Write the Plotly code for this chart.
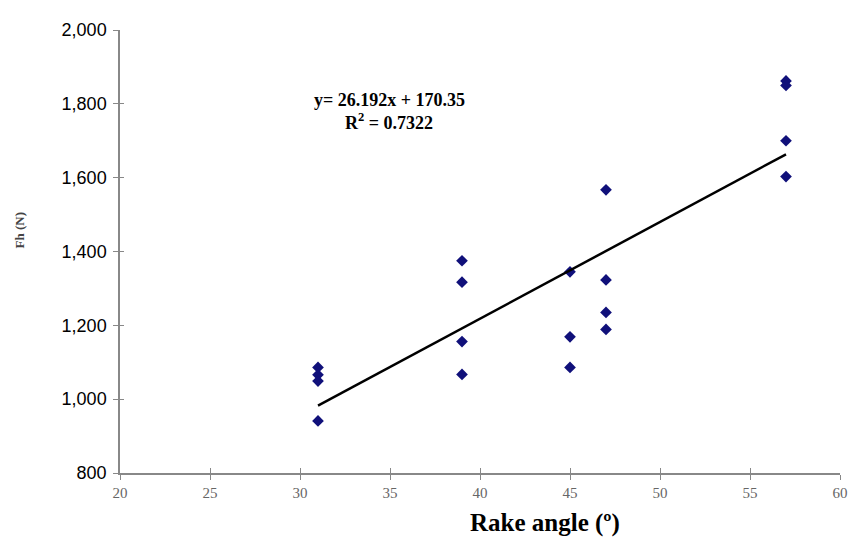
import plotly.graph_objects as go

rake_angle = [31, 31, 31, 31, 39, 39, 39, 39, 45, 45, 45, 47, 47, 47, 47, 57, 57, 57, 57]
fh_values = [1086, 1066, 1049, 941, 1375, 1317, 1156, 1067, 1345, 1169, 1086,
             1567, 1323, 1235, 1189, 1862, 1850, 1700, 1603]

slope = 26.192
intercept = 170.35
fit_x = [31, 57]
fit_y = [slope * v + intercept for v in fit_x]

x_ticks = [20, 25, 30, 35, 40, 45, 50, 55, 60]
y_ticks = [800, 1000, 1200, 1400, 1600, 1800, 2000]

W, H = 850, 550
l, r, t, b = 120, 10, 30, 77
pw, ph = W - l - r, H - t - b


def paper(xp, yp):
    """page pixel -> paper coords relative to plot area"""
    return (xp - l) / pw, (H - b - yp) / ph


fig = go.Figure()
fig.add_trace(go.Scatter(x=rake_angle, y=fh_values, mode="markers",
                         marker=dict(symbol="diamond", size=9, color="#10107a"),
                         showlegend=False))
fig.add_trace(go.Scatter(x=fit_x, y=fit_y, mode="lines",
                         line=dict(color="black", width=2.5), showlegend=False))
fig.add_trace(go.Scatter(x=[20], y=[800], xaxis="x2", yaxis="y2", mode="markers",
                         marker=dict(opacity=0), showlegend=False, hoverinfo="skip"))

ax_common = dict(showgrid=False, zeroline=False)
fig.update_layout(
    width=W, height=H, autosize=False,
    margin=dict(l=l, r=r, t=t, b=b, autoexpand=False),
    plot_bgcolor="white", paper_bgcolor="white",
    xaxis=dict(range=[20, 60], tickvals=x_ticks, showline=True, linecolor="#888",
               linewidth=1.5, ticks="outside", ticklen=5, tickcolor="#888",
               ticklabeloverflow="allow",
               tickfont=dict(family="Liberation Serif", size=15, color="#666"),
               **ax_common),
    yaxis=dict(range=[800, 2000], tickvals=y_ticks, tickformat=",d", showline=True,
               linecolor="#888", linewidth=1.5, ticks="outside", ticklen=5,
               tickcolor="#888", ticklabelstandoff=3,
               tickfont=dict(family="Liberation Sans", size=18, color="black"),
               **ax_common),
    xaxis2=dict(range=[20, 60], tickvals=x_ticks, overlaying="x", ticks="inside",
                ticklen=5, tickcolor="#888", showticklabels=False, showline=False,
                **ax_common),
    yaxis2=dict(range=[800, 2000], tickvals=y_ticks, overlaying="y", ticks="inside",
                ticklen=4, tickcolor="#888", showticklabels=False, showline=False,
                **ax_common),
)

xt_x, xt_y = paper(545, 539)
yt_x, yt_y = paper(9, 231)
fig.update_layout(annotations=[
    dict(x=34.95, y=1810, xref="x", yref="y", text="<b>y= 26.192x + 170.35</b>",
         showarrow=False, font=dict(family="Liberation Serif", size=18, color="black")),
    dict(x=34.95, y=1753, xref="x", yref="y", text="<b>R<sup>2</sup> = 0.7322</b>",
         showarrow=False, font=dict(family="Liberation Serif", size=18, color="black")),
    dict(x=xt_x, y=xt_y, xref="paper", yref="paper", text="<b>Rake angle (º)</b>",
         showarrow=False, font=dict(family="Liberation Serif", size=25, color="black")),
    dict(x=yt_x, y=yt_y, xref="paper", yref="paper", text="<b>Fh (N)</b>", textangle=-90,
         showarrow=False, font=dict(family="Liberation Serif", size=13, color="#444")),
])

fig.write_html(
    "out.html",
    config={"responsive": False, "displayModeBar": False},
    post_script="document.body.style.margin='0';document.body.style.overflow='hidden';",
)
